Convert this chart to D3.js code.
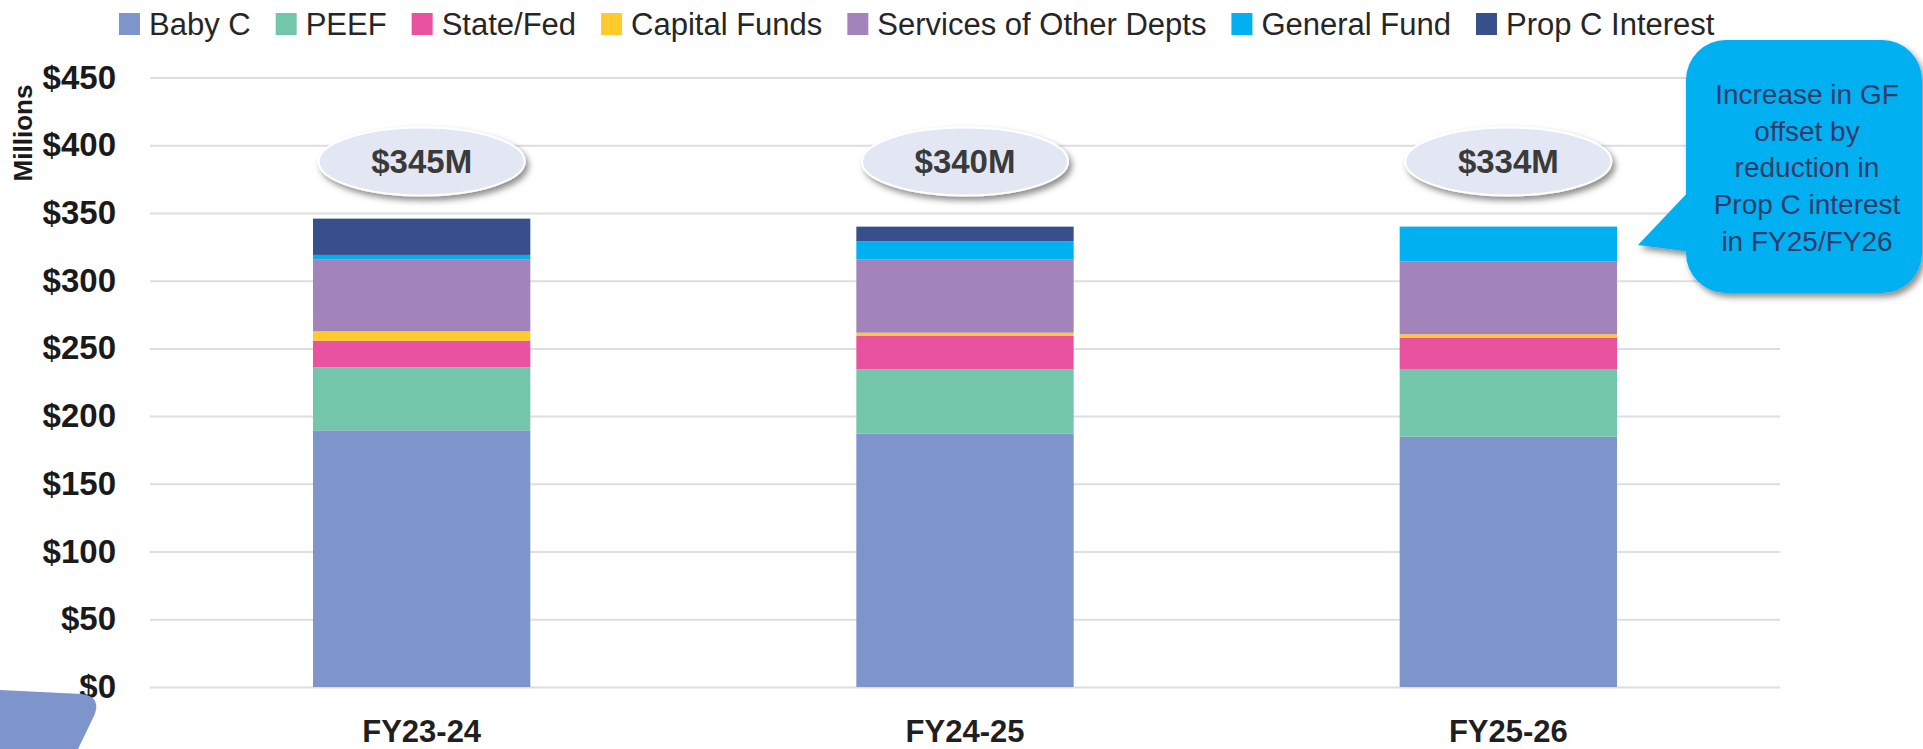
<!DOCTYPE html>
<html>
<head>
<meta charset="utf-8">
<script src="https://cdn.jsdelivr.net/npm/d3@7"></script>
<style>
  body { margin: 0; background: #fff; }
  svg { display: block; font-family: 'Liberation Sans', Arial, sans-serif; }
</style>
</head>
<body>
<div id="app"></div>
<script>
const years = ['FY23-24', 'FY24-25', 'FY25-26']
const seriesNames = ['Baby C', 'PEEF', 'State/Fed', 'Capital Funds', 'Services of Other Depts', 'General Fund', 'Prop C Interest']
const seriesColors = ['#7e95cb', '#74c6aa', '#e8529e', '#ffca2b', '#a284bb', '#00b0f0', '#37508c']

// values in $ millions, per series, per year
const babyC    = [189.5, 187.0, 184.8]
const peef     = [46.5, 47.6, 50.0]
const stateFed = [19.7, 24.6, 23.1]
const capital  = [6.9, 2.4, 2.5]
const services = [52.9, 53.9, 53.9]
const genFund  = [3.5, 13.6, 25.6]
const propC    = [26.8, 10.8, 0]

const totalLabels = ['$345M', '$340M', '$334M']
const yTicks = [0, 50, 100, 150, 200, 250, 300, 350, 400, 450]
const calloutLines = ['Increase in GF', 'offset by', 'reduction in', 'Prop C interest', 'in FY25/FY26']

const width = 1923
const height = 749

const table = years.map((yr, i) => ({
    year: yr,
    'Baby C': babyC[i],
    'PEEF': peef[i],
    'State/Fed': stateFed[i],
    'Capital Funds': capital[i],
    'Services of Other Depts': services[i],
    'General Fund': genFund[i],
    'Prop C Interest': propC[i],
}))

const stacked = d3.stack().keys(seriesNames)(table)

const x_scale = d3.scaleBand()
    .domain(years)
    .range([150, 1780])
    .paddingInner(0.6)
    .paddingOuter(0.3)

const y_scale = d3.scaleLinear()
    .domain([0, 450])
    .range([687, 77.5])

const color = d3.scaleOrdinal().domain(seriesNames).range(seriesColors)

const svg = d3.create('svg')
    .attr('viewBox', [0, 0, width, height])
    .attr('width', width)
    .attr('height', height)

d3.select('#app').append(() => svg.node())

const defs = svg.append('defs')
defs.append('filter')
    .attr('id', 'shadow')
    .attr('x', '-20%').attr('y', '-20%').attr('width', '150%').attr('height', '150%')
    .append('feDropShadow')
    .attr('dx', 3).attr('dy', 4).attr('stdDeviation', 3)
    .attr('flood-color', '#000').attr('flood-opacity', 0.45)

// gridlines + y labels
const yAxis = svg.append('g')
    .attr('transform', `translate(${x_scale.range()[0]},0)`)
    .call(d3.axisLeft(y_scale)
        .tickValues(yTicks)
        .tickSize(-(x_scale.range()[1] - x_scale.range()[0]))
        .tickPadding(34)
        .tickFormat(d => '$' + d))
yAxis.select('.domain').remove()
yAxis.selectAll('line').attr('stroke', '#dedede').attr('stroke-width', 2)
yAxis.selectAll('text')
    .attr('fill', '#1a1a1a')
    .style('font-size', '33px')
    .style('font-weight', 'bold')

svg.append('text')
    .attr('transform', 'translate(32,133) rotate(-90)')
    .attr('text-anchor', 'middle')
    .attr('fill', '#1a1a1a')
    .style('font-size', '26px')
    .style('font-weight', 'bold')
    .text('Millions')

// bars
svg.append('g')
    .selectAll('g')
    .data(stacked)
    .join('g')
    .attr('fill', d => color(d.key))
    .selectAll('rect')
    .data(d => d)
    .join('rect')
    .attr('x', d => x_scale(d.data.year))
    .attr('y', d => y_scale(d[1]))
    .attr('width', x_scale.bandwidth())
    .attr('height', d => y_scale(d[0]) - y_scale(d[1]))

// x labels
const xAxis = svg.append('g')
    .attr('transform', `translate(0,${y_scale(0)})`)
    .call(d3.axisBottom(x_scale).tickSize(0))
xAxis.select('.domain').remove()
xAxis.selectAll('text')
    .attr('y', 55)
    .attr('dy', 0)
    .attr('fill', '#1f1f1f')
    .style('font-size', '31px')
    .style('font-weight', 'bold')

// total ellipses
const totals = svg.append('g')
    .selectAll('g')
    .data(years)
    .join('g')
    .attr('transform', d => `translate(${x_scale(d) + x_scale.bandwidth() / 2},${y_scale(388)})`)
totals.append('ellipse')
    .attr('rx', 103)
    .attr('ry', 34)
    .attr('fill', '#e3e7f4')
    .attr('stroke', '#fff')
    .attr('stroke-width', 2)
    .attr('filter', 'url(#shadow)')
totals.append('text')
    .attr('text-anchor', 'middle')
    .attr('y', 12)
    .attr('fill', '#3a3a3a')
    .style('font-size', '33px')
    .style('font-weight', 'bold')
    .text((d, i) => totalLabels[i])

// legend
const legend = svg.append('g').attr('transform', 'translate(119,0)')
let lx = 0
seriesNames.forEach((name, i) => {
    const item = legend.append('g').attr('transform', `translate(${lx},0)`)
    item.append('rect')
        .attr('x', 0).attr('y', 13)
        .attr('width', 21).attr('height', 22)
        .attr('fill', seriesColors[i])
    const t = item.append('text')
        .attr('x', 30).attr('y', 35)
        .attr('fill', '#262626')
        .style('font-size', '31px')
        .text(name)
    lx += 30 + t.node().getComputedTextLength() + 25
})

// callout
const callout = svg.append('g').attr('filter', 'url(#shadow)')
callout.append('rect')
    .attr('x', 1686).attr('y', 40)
    .attr('width', 236).attr('height', 253)
    .attr('rx', 40)
    .attr('fill', '#00b0f0')
callout.append('path')
    .attr('d', 'M1692,188 L1638,245 L1692,252 Z')
    .attr('fill', '#00b0f0')
svg.append('g')
    .selectAll('text')
    .data(calloutLines)
    .join('text')
    .attr('x', 1807)
    .attr('y', (d, i) => 104 + i * 36.7)
    .attr('text-anchor', 'middle')
    .attr('fill', '#2f3b6b')
    .style('font-size', '28px')
    .text(d => d)

// partial shape at bottom-left
svg.append('path')
    .attr('d', 'M0,690 L82,694 Q102,697 94,716 L78,749 L0,749 Z')
    .attr('fill', '#7e95cb')
</script>
</body>
</html>
